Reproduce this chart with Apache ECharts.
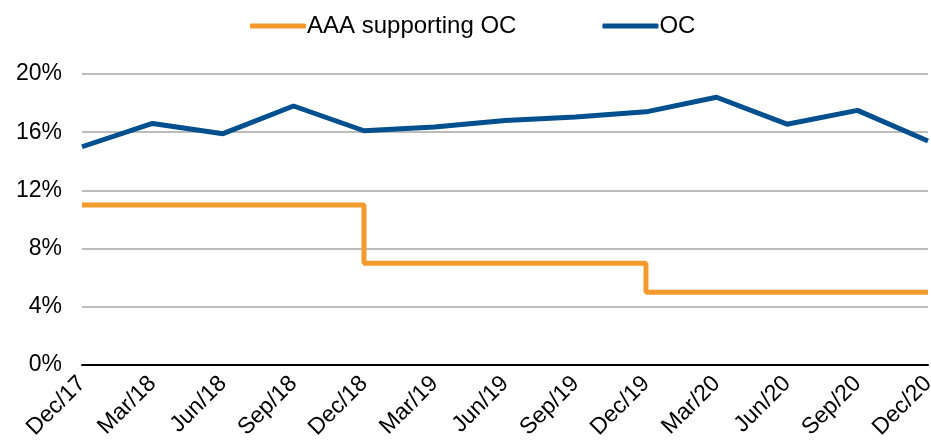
<!DOCTYPE html>
<html>
<head>
<meta charset="utf-8">
<script src="https://cdn.jsdelivr.net/npm/echarts@6/dist/echarts.min.js"></script>
<style>
  html, body { margin: 0; padding: 0; background: #fff; }
  #chart { width: 931px; height: 446px; }
</style>
</head>
<body>
<div id="chart"></div>
<script>
var quarters = ['Dec/17', 'Mar/18', 'Jun/18', 'Sep/18', 'Dec/18', 'Mar/19', 'Jun/19',
    'Sep/19', 'Dec/19', 'Mar/20', 'Jun/20', 'Sep/20', 'Dec/20'];
var aaaSupportingOC = [11, 11, 11, 11, 7, 7, 7, 7, 5, 5, 5, 5, 5];
var oc = [15.0, 16.6, 15.9, 17.8, 16.1, 16.35, 16.8, 17.05, 17.4, 18.4, 16.55, 17.5, 15.4];

var chart = echarts.init(document.getElementById('chart'));
var font = 'Liberation Sans, Arial, sans-serif';

var option = {
    animation: false,
    textStyle: { fontFamily: font },
    legend: {
        top: 9,
        left: 245,
        itemWidth: 56,
        itemHeight: 5,
        itemGap: 86,
        icon: 'roundRect',
        textStyle: { fontSize: 24, color: '#000', fontFamily: font, padding: [0, 0, 0, -4] },
        data: ['AAA supporting OC', 'OC']
    },
    grid: { left: 82, right: 3, top: 74, bottom: 81, outerBoundsMode: 'none' },
    xAxis: {
        type: 'category',
        data: quarters,
        boundaryGap: false,
        axisLine: { lineStyle: { color: '#000', width: 2 } },
        axisTick: { show: false },
        axisLabel: { rotate: 45, fontSize: 23, color: '#000', margin: 15, interval: 0 }
    },
    yAxis: {
        type: 'value',
        min: 0,
        max: 20,
        interval: 4,
        axisLine: { show: false },
        axisTick: { show: false },
        splitLine: { lineStyle: { color: '#a6a6a6', width: 1.5 } },
        axisLabel: {
            formatter: '{value}%',
            fontSize: 23,
            color: '#000',
            margin: 20
        }
    },
    series: [
        {
            name: 'AAA supporting OC',
            type: 'line',
            step: 'end',
            data: aaaSupportingOC,
            symbol: 'none',
            lineStyle: { color: '#f4992b', width: 5 },
            itemStyle: { color: '#f4992b' }
        },
        {
            name: 'OC',
            type: 'line',
            data: oc,
            symbol: 'none',
            lineStyle: { color: '#004f8f', width: 5 },
            itemStyle: { color: '#004f8f' }
        }
    ]
};
chart.setOption(option);
</script>
</body>
</html>
